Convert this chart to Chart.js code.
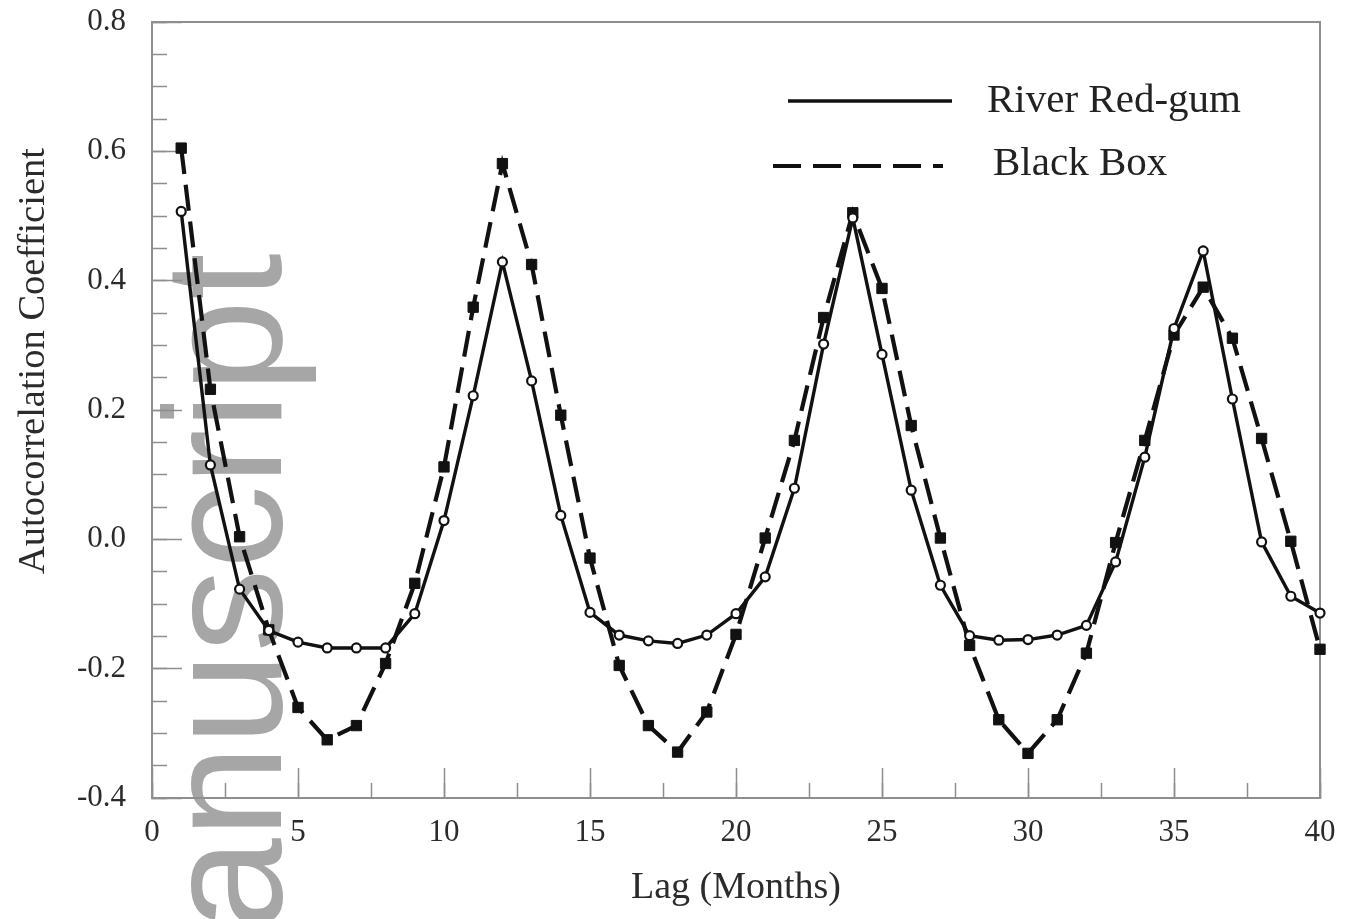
<!DOCTYPE html>
<html>
<head>
<meta charset="utf-8">
<script src="https://cdn.jsdelivr.net/npm/chart.js@4/dist/chart.umd.min.js"></script>
<style>
html,body{margin:0;padding:0;background:#fff;overflow:hidden;width:1351px;height:919px;}
#wrap{position:relative;width:1351px;height:919px;overflow:hidden;}
#wm{position:absolute;left:139.6px;top:930.5px;font-family:"Liberation Sans",Arial,sans-serif;font-size:167px;line-height:167px;color:#a6a6a6;white-space:nowrap;transform-origin:0 0;transform:rotate(-90deg);z-index:0;}
#cv{position:absolute;left:0;top:0;z-index:1;}
#leg{position:absolute;left:0;top:0;z-index:2;}
.txt{position:absolute;font-family:"Liberation Serif","Times New Roman",serif;color:#222;white-space:nowrap;line-height:1;z-index:3;}
#ytitle{left:31px;top:361px;font-size:38.5px;transform:translate(-50%,-50%) rotate(-90deg);color:#2b2b2b;}
</style>
</head>
<body>
<div id="wrap">
  <div id="wm">anuscript</div>
  <canvas id="cv" width="1351" height="919"></canvas>
  <svg id="leg" width="1351" height="919"></svg>
  <div class="txt" id="ytitle">Autocorrelation Coefficient</div>
</div>
<script>
// ---------------- data ----------------
const lags = [1,2,3,4,5,6,7,8,9,10,11,12,13,14,15,16,17,18,19,20,
              21,22,23,24,25,26,27,28,29,30,31,32,33,34,35,36,37,38,39,40];
const riverRedGum = [0.507,0.115,-0.077,-0.141,-0.159,-0.168,-0.168,-0.168,-0.115,0.029,
                     0.222,0.429,0.245,0.037,-0.113,-0.148,-0.157,-0.161,-0.148,-0.115,
                     -0.058,0.079,0.302,0.497,0.286,0.076,-0.071,-0.149,-0.156,-0.155,
                     -0.148,-0.133,-0.035,0.127,0.326,0.446,0.217,-0.004,-0.088,-0.114];
const blackBox = [0.605,0.232,0.004,-0.14,-0.26,-0.31,-0.288,-0.192,-0.068,0.112,
                  0.359,0.581,0.425,0.192,-0.029,-0.195,-0.288,-0.329,-0.267,-0.147,
                  0.002,0.153,0.343,0.505,0.388,0.176,0.002,-0.164,-0.279,-0.331,
                  -0.279,-0.176,-0.005,0.153,0.316,0.39,0.311,0.156,-0.003,-0.17];
const seriesNames = ['River Red-gum','Black Box'];
const xTickValues = [0,5,10,15,20,25,30,35,40];
const xTickLabels = ['0','5','10','15','20','25','30','35','40'];
const xMinorTickValues = [0,2.5,5,7.5,10,12.5,15,17.5,20,22.5,25,27.5,30,32.5,35,37.5,40];
const yTickValues = [-0.4,-0.2,0,0.2,0.4,0.6,0.8];
const yTickLabels = ['-0.4','-0.2','0.0','0.2','0.4','0.6','0.8'];
const yMinorTickValues = [-0.4,-0.35,-0.3,-0.25,-0.2,-0.15,-0.1,-0.05,0,0.05,0.1,0.15,0.2,
                          0.25,0.3,0.35,0.4,0.45,0.5,0.55,0.6,0.65,0.7,0.75,0.8];
const xTitle = 'Lag (Months)';

// ---------------- styling ----------------
const SERIF = '"Liberation Serif","Times New Roman",serif';
const AXIS = '#8e8e8e';
const INK = '#111';
const TXT = '#2b2b2b';

function setTicks(vals){ return s => { s.ticks = vals.map(v => ({value: v})); }; }
function fixH(h){ return s => { s.height = h; s.paddingLeft = 0; s.paddingRight = 0; s.paddingTop = 0; s.paddingBottom = 0; }; }
function fixW(w){ return s => { s.width = w; s.paddingLeft = 0; s.paddingRight = 0; s.paddingTop = 0; s.paddingBottom = 0; }; }

const datasets = [
  {
    label: seriesNames[0],
    data: lags.map((x, i) => ({x: x, y: riverRedGum[i]})),
    borderColor: INK, borderWidth: 3.4, borderDash: [],
    backgroundColor: '#fff',
    pointStyle: 'circle', pointRadius: 4.5, pointBorderWidth: 2.2,
    pointBorderColor: INK, pointBackgroundColor: '#fff',
    tension: 0, clip: false, xAxisID: 'x', yAxisID: 'y'
  },
  {
    label: seriesNames[1],
    data: lags.map((x, i) => ({x: x, y: blackBox[i]})),
    borderColor: INK, borderWidth: 4.2, borderDash: [26, 11],
    backgroundColor: INK,
    pointStyle: 'rect', pointRadius: 7.3, pointBorderWidth: 1,
    pointBorderColor: INK, pointBackgroundColor: INK,
    tension: 0, clip: false, xAxisID: 'x', yAxisID: 'y'
  }
];

const chart = new Chart(document.getElementById('cv'), {
  type: 'line',
  data: { datasets: datasets },
  options: {
    responsive: false,
    devicePixelRatio: 1,
    animation: false,
    events: [],
    layout: { padding: { left: 0, right: 31, top: 22, bottom: 0 } },
    plugins: { legend: { display: false }, tooltip: { enabled: false } },
    scales: {
      x: {
        type: 'linear', position: 'bottom', min: 0, max: 40, weight: 2,
        afterBuildTicks: setTicks(xTickValues),
        afterFit: fixH(121),
        grid: { drawOnChartArea: false, drawTicks: true, tickLength: -30, tickColor: AXIS, tickWidth: 1.5 },
        border: { display: true, color: AXIS, width: 2 },
        ticks: { padding: 46, color: TXT, font: { family: SERIF, size: 31 }, maxRotation: 0, autoSkip: false,
                 callback: (v, i) => xTickLabels[i] },
        title: { display: true, text: xTitle, color: TXT, font: { family: SERIF, size: 38 }, padding: { top: 0, bottom: 8 } }
      },
      xMinor: {
        type: 'linear', position: 'bottom', min: 0, max: 40, weight: 1,
        afterBuildTicks: setTicks(xMinorTickValues),
        afterFit: fixH(0),
        grid: { drawOnChartArea: false, drawTicks: true, tickLength: -15, tickColor: AXIS, tickWidth: 1.5 },
        border: { display: false },
        ticks: { display: false }
      },
      xTop: {
        type: 'linear', position: 'top', min: 0, max: 40,
        afterFit: fixH(0),
        grid: { display: false, drawTicks: false },
        border: { display: true, color: AXIS, width: 2 },
        ticks: { display: false }
      },
      y: {
        type: 'linear', position: 'left', min: -0.4, max: 0.8, weight: 2,
        afterBuildTicks: setTicks(yTickValues),
        afterFit: fixW(152),
        grid: { drawOnChartArea: false, drawTicks: true, tickLength: -30, tickColor: AXIS, tickWidth: 1.5 },
        border: { display: true, color: AXIS, width: 2 },
        ticks: { padding: 56, color: TXT, font: { family: SERIF, size: 31 }, autoSkip: false,
                 callback: (v, i) => yTickLabels[i] }
      },
      yMinor: {
        type: 'linear', position: 'left', min: -0.4, max: 0.8, weight: 1,
        afterBuildTicks: setTicks(yMinorTickValues),
        afterFit: fixW(0),
        grid: { drawOnChartArea: false, drawTicks: true, tickLength: -15, tickColor: AXIS, tickWidth: 1.5 },
        border: { display: false },
        ticks: { display: false }
      },
      yRight: {
        type: 'linear', position: 'right', min: -0.4, max: 0.8,
        afterFit: fixW(0),
        grid: { display: false, drawTicks: false },
        border: { display: true, color: AXIS, width: 2 },
        ticks: { display: false }
      }
    }
  }
});

// ---------------- legend (built from the datasets) ----------------
const legendSlots = [
  { x1: 788, x2: 952, y: 101, tx: 987, base: 112 },
  { x1: 773, x2: 943, y: 166, tx: 993, base: 175 }
];
const LEG_FONT = 41;
const svg = document.getElementById('leg');
const NS = 'http://www.w3.org/2000/svg';
chart.data.datasets.forEach((ds, i) => {
  const s = legendSlots[i];
  const ln = document.createElementNS(NS, 'line');
  ln.setAttribute('x1', s.x1); ln.setAttribute('x2', s.x2);
  ln.setAttribute('y1', s.y); ln.setAttribute('y2', s.y);
  ln.setAttribute('stroke', ds.borderColor);
  ln.setAttribute('stroke-width', ds.borderWidth);
  if (ds.borderDash && ds.borderDash.length) ln.setAttribute('stroke-dasharray', '28 12');
  svg.appendChild(ln);
  const t = document.createElement('div');
  t.className = 'txt';
  t.textContent = ds.label;
  t.style.fontSize = LEG_FONT + 'px';
  t.style.left = s.tx + 'px';
  t.style.top = (s.base - 0.8375 * LEG_FONT) + 'px';
  document.getElementById('wrap').appendChild(t);
});
</script>
</body>
</html>
